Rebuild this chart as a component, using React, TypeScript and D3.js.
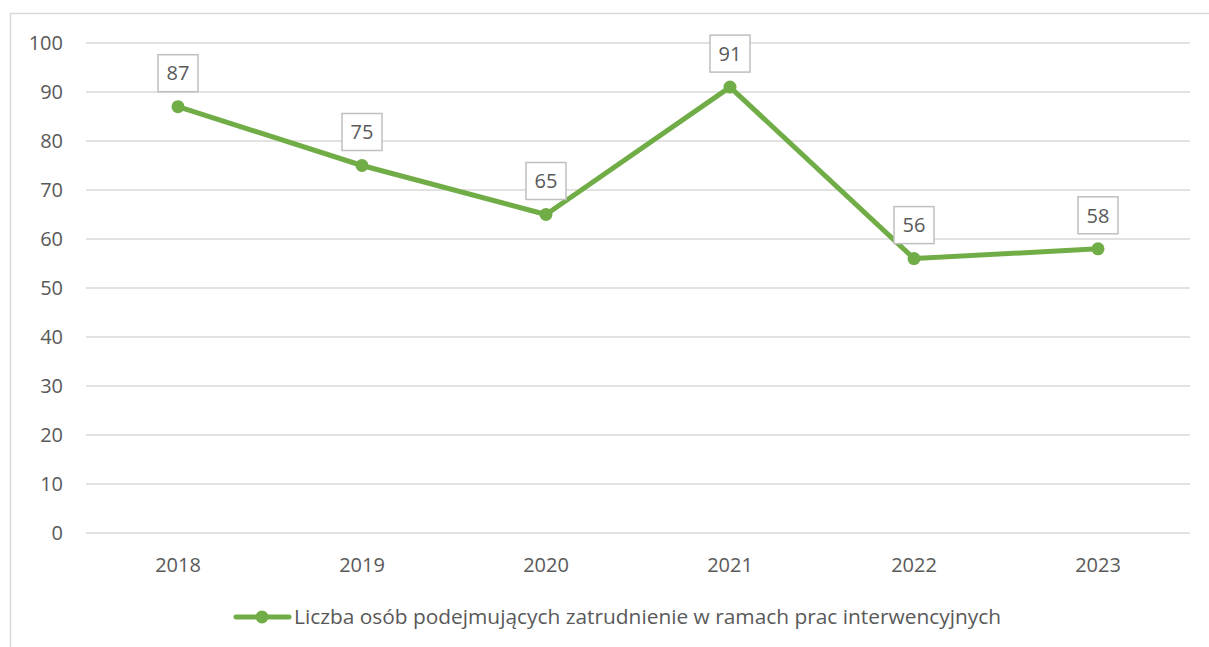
import React from "react";
import * as d3 from "d3";

const years = ["2018", "2019", "2020", "2021", "2022", "2023"];
const values = [87, 75, 65, 91, 56, 58];
const yTicks = [0, 10, 20, 30, 40, 50, 60, 70, 80, 90, 100];
const seriesName = "Liczba osób podejmujących zatrudnienie w ramach prac interwencyjnych";

const W = 1209;
const H = 647;
const FONT = "'Open Sans', sans-serif";
const GREEN = "#70AD47";
const TEXT = "#595959";

export default function App() {
  const x = d3.scaleBand<string>().domain(years).range([86, 1190]);
  const y = d3.scaleLinear().domain([0, 100]).range([533, 43]);
  const line = d3
    .line<number>()
    .x((_, i) => x(years[i])! + x.bandwidth() / 2)
    .y((d) => y(d));

  return (
    <svg
      width={W}
      height={H}
      style={{ position: "absolute", left: 0, top: 0, background: "#fff" }}
      fontFamily={FONT}
    >
      <rect x={10.5} y={13.5} width={W} height={H} fill="#fff" stroke="#d9d9d9" strokeWidth={1.5} />
      {yTicks.map((t) => (
        <g key={t}>
          <line x1={86} x2={1190} y1={y(t)} y2={y(t)} stroke="#d9d9d9" strokeWidth={1.5} />
          <text x={63} y={y(t)} dy="0.36em" textAnchor="end" fontSize={20} fill={TEXT}>
            {t}
          </text>
        </g>
      ))}
      {years.map((yr) => (
        <text key={yr} x={x(yr)! + x.bandwidth() / 2} y={565} dy="0.36em" textAnchor="middle" fontSize={20} fill={TEXT}>
          {yr}
        </text>
      ))}
      <path d={line(values)!} fill="none" stroke={GREEN} strokeWidth={5} strokeLinejoin="round" />
      {values.map((v, i) => {
        const cx = x(years[i])! + x.bandwidth() / 2;
        const cy = y(v);
        return (
          <g key={i}>
            <circle cx={cx} cy={cy} r={6.5} fill={GREEN} />
            <rect x={cx - 20} y={cy - 52} width={40} height={37} fill="#fff" stroke="#bfbfbf" strokeWidth={1.5} />
            <text x={cx} y={cy - 33.5} dy="0.36em" textAnchor="middle" fontSize={20} fill={TEXT}>
              {v}
            </text>
          </g>
        );
      })}
      <line x1={236} x2={289} y1={617} y2={617} stroke={GREEN} strokeWidth={5} strokeLinecap="round" />
      <circle cx={262} cy={617} r={6.5} fill={GREEN} />
      <text x={294} y={617} dy="0.36em" fontSize={20} fill={TEXT} textLength={707} lengthAdjust="spacingAndGlyphs">
        {seriesName}
      </text>
    </svg>
  );
}
